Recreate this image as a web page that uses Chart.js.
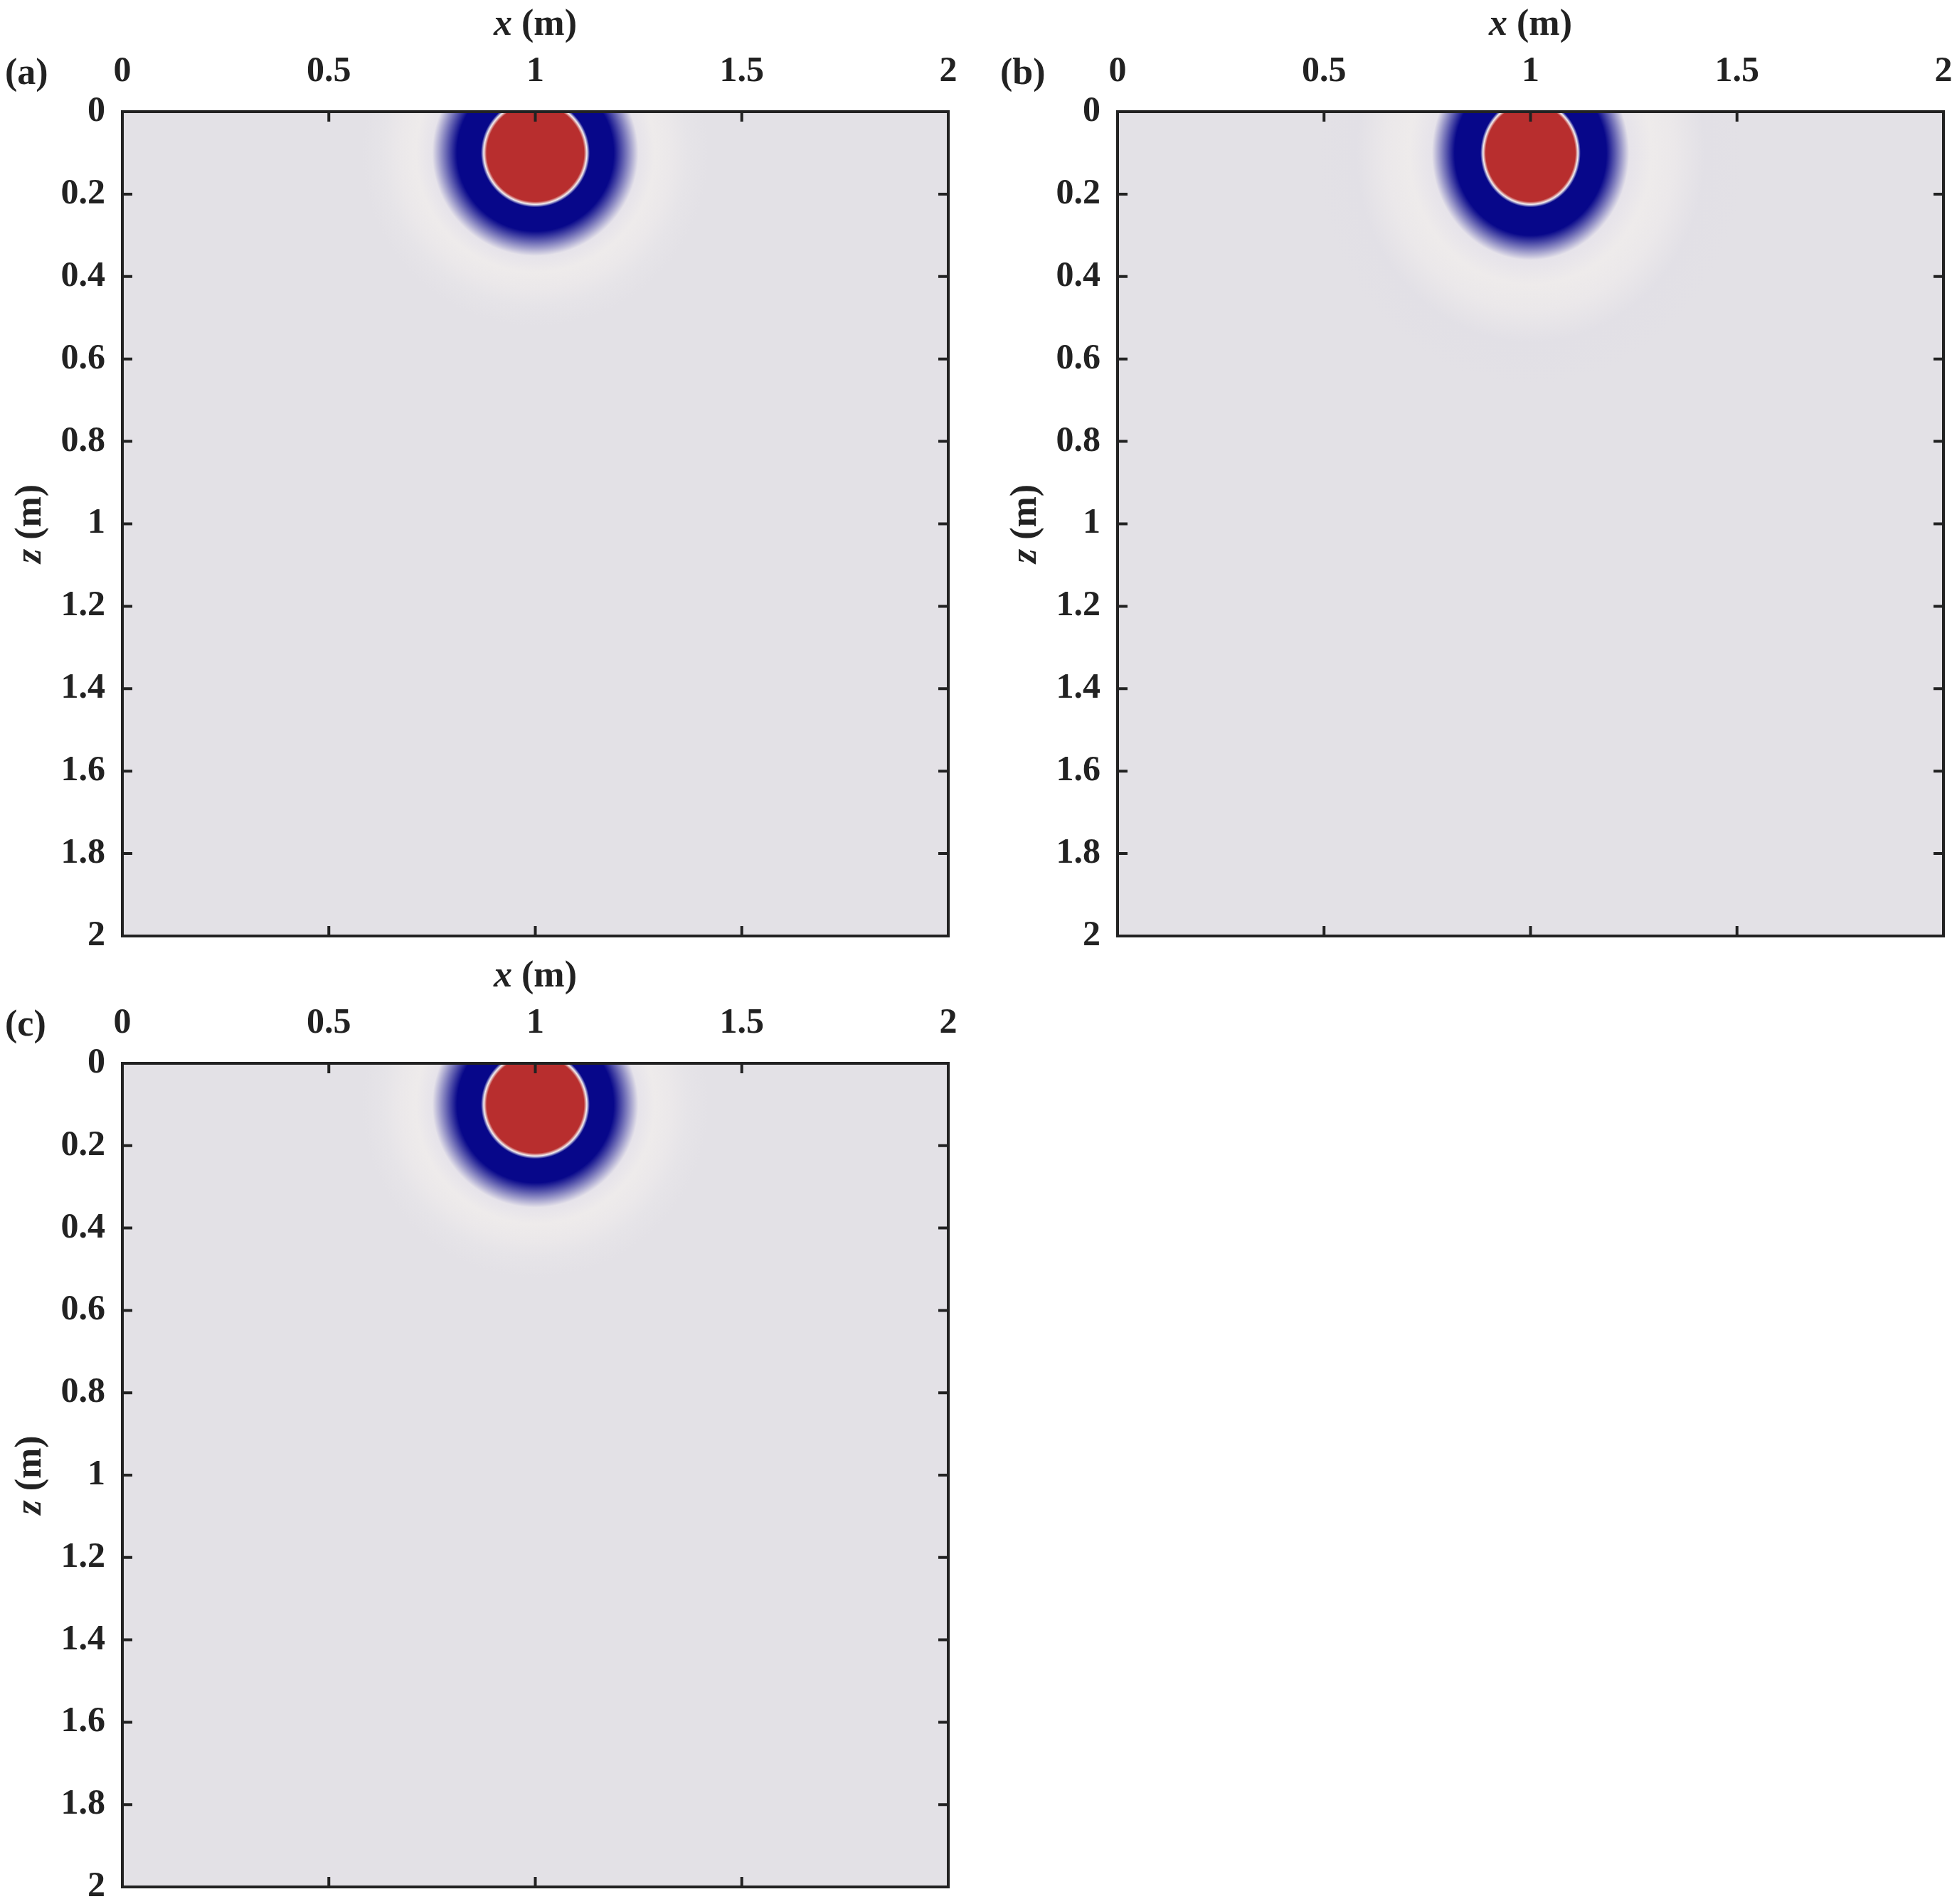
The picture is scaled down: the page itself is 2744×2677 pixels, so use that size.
<!DOCTYPE html>
<html>
<head>
<meta charset="utf-8">
<script src="https://cdn.jsdelivr.net/npm/chart.js@4/dist/chart.umd.min.js"></script>
<style>
  body { margin: 0; background: #fff; width: 2744px; height: 2677px; position: relative; overflow: hidden; }
  .box { position: absolute; }
</style>
</head>
<body>
<div class="box" style="left:0;top:0;width:1372px;height:1340px"><canvas id="ca"></canvas></div>
<div class="box" style="left:1399px;top:0;width:1345px;height:1340px"><canvas id="cb"></canvas></div>
<div class="box" style="left:0;top:1338px;width:1372px;height:1339px"><canvas id="cc"></canvas></div>
<script>
"use strict";

// axis ticks
const xTicks = [0, 0.5, 1, 1.5, 2];
const zTicks = [0, 0.2, 0.4, 0.6, 0.8, 1, 1.2, 1.4, 1.6, 1.8, 2];

// source position (m)
const sourceX = [1, 1, 1];
const sourceZ = [0.1, 0.1, 0.1];

// radial profile of the wavefield for each panel (radius in m, colour at that radius)
const radiiA = [0, 0.118, 0.125, 0.132, 0.19, 0.25, 0.29, 0.33, 0.37, 0.42];
const radiiB = [0, 0.118, 0.125, 0.132, 0.2, 0.26, 0.32, 0.38, 0.46, 0.56];
const radiiC = [0, 0.118, 0.125, 0.132, 0.19, 0.25, 0.29, 0.33, 0.37, 0.42];
const ringColorsA = ["#b82e2e", "#b82e2e", "#f4f0f0", "#07078a", "#07078a", "#e6e3ea", "#eeebeb", "#ebe8ea", "#e6e4e8", "#e3e1e6"];
const ringColorsB = ["#b82e2e", "#b82e2e", "#f4f0f0", "#07078a", "#07078a", "#e6e3ea", "#eeebeb", "#ebe8ea", "#e2e0e6", "#e3e1e6"];
const ringColorsC = ["#b82e2e", "#b82e2e", "#f4f0f0", "#07078a", "#07078a", "#e6e3ea", "#eeebeb", "#ebe8ea", "#e6e4e8", "#e3e1e6"];
// horizontal squeeze of the pattern (b is slightly narrower than tall)
const xStretch = [1, 0.92, 1];

const panelLetters = ["(a)", "(b)", "(c)"];

const bgColor = "#e3e1e6";
const axisColor = "#222";
const font = "'Liberation Serif', 'DejaVu Serif', serif";

const fieldPlugin = {
  id: "field",
  beforeDatasetsDraw(chart, args, opts) {
    const { ctx, chartArea: a } = chart;
    const xs = chart.scales.x, zs = chart.scales.y;
    ctx.save();
    ctx.beginPath();
    ctx.rect(a.left, a.top, a.right - a.left, a.bottom - a.top);
    ctx.clip();
    ctx.fillStyle = bgColor;
    ctx.fillRect(a.left, a.top, a.right - a.left, a.bottom - a.top);
    const cx = xs.getPixelForValue(opts.x);
    const cz = zs.getPixelForValue(opts.z);
    const rMax = opts.radii[opts.radii.length - 1];
    const rPix = Math.abs(zs.getPixelForValue(opts.z + rMax) - cz);
    ctx.translate(cx, cz);
    ctx.scale(opts.stretch, 1);
    const g = ctx.createRadialGradient(0, 0, 0, 0, 0, rPix);
    opts.radii.forEach((r, i) => g.addColorStop(r / rMax, opts.colors[i]));
    ctx.fillStyle = g;
    ctx.beginPath();
    ctx.arc(0, 0, rPix, 0, Math.PI * 2);
    ctx.fill();
    ctx.restore();
  },
  afterDraw(chart, args, opts) {
    const { ctx, chartArea: a } = chart;
    const xs = chart.scales.x, zs = chart.scales.y;
    ctx.save();
    // inward ticks on all four sides
    ctx.strokeStyle = axisColor;
    ctx.lineWidth = 4;
    const tl = 14;
    ctx.beginPath();
    xTicks.forEach(v => {
      const p = xs.getPixelForValue(v);
      ctx.moveTo(p, a.top); ctx.lineTo(p, a.top + tl);
      ctx.moveTo(p, a.bottom); ctx.lineTo(p, a.bottom - tl);
    });
    zTicks.forEach(v => {
      const p = zs.getPixelForValue(v);
      ctx.moveTo(a.left, p); ctx.lineTo(a.left + tl, p);
      ctx.moveTo(a.right, p); ctx.lineTo(a.right - tl, p);
    });
    ctx.stroke();
    ctx.strokeRect(a.left, a.top, a.right - a.left, a.bottom - a.top);

    ctx.fillStyle = axisColor;
    ctx.textBaseline = "middle";
    // panel letter
    ctx.font = "bold 52px " + font;
    ctx.textAlign = "left";
    ctx.fillText(opts.letter, a.left - 165, 105);
    // x title: italic x + " (m)"
    const midX = (a.left + a.right) / 2;
    ctx.font = "italic bold 52px " + font;
    const w1 = ctx.measureText("x").width;
    ctx.font = "bold 52px " + font;
    const w2 = ctx.measureText(" (m)").width;
    let sx = midX - (w1 + w2) / 2;
    ctx.font = "italic bold 52px " + font;
    ctx.fillText("x", sx, 36);
    ctx.font = "bold 52px " + font;
    ctx.fillText(" (m)", sx + w1, 36);
    // z title rotated
    ctx.translate(44, (a.top + a.bottom) / 2);
    ctx.rotate(-Math.PI / 2);
    ctx.font = "italic bold 52px " + font;
    const v1 = ctx.measureText("z").width;
    ctx.font = "bold 52px " + font;
    const v2 = ctx.measureText(" (m)").width;
    sx = -(v1 + v2) / 2;
    ctx.font = "italic bold 52px " + font;
    ctx.fillText("z", sx, 0);
    ctx.font = "bold 52px " + font;
    ctx.fillText(" (m)", sx + v1, 0);
    ctx.restore();
  }
};

function makePanel(id, i, radii, colors, pad) {
  const tickFont = { family: font, size: 50, weight: "bold" };
  new Chart(document.getElementById(id), {
    type: "scatter",
    data: { datasets: [{ data: [{ x: sourceX[i], y: sourceZ[i] }], pointRadius: 0 }] },
    options: {
      responsive: true,
      maintainAspectRatio: false,
      animation: false,
      layout: { padding: pad },
      plugins: {
        legend: { display: false },
        tooltip: { enabled: false },
        field: { x: sourceX[i], z: sourceZ[i], radii: radii, colors: colors, stretch: xStretch[i], letter: panelLetters[i] }
      },
      scales: {
        x: {
          type: "linear", position: "top", min: 0, max: 2,
          afterBuildTicks: s => { s.ticks = xTicks.map(v => ({ value: v })); },
          afterFit: s => { s.height = 157; s.paddingLeft = 0; s.paddingRight = 0; },
          grid: { display: false },
          border: { display: false },
          ticks: { font: tickFont, color: axisColor, padding: 18, maxRotation: 0, callback: v => String(v) }
        },
        y: {
          type: "linear", position: "left", min: 0, max: 2, reverse: true,
          afterBuildTicks: s => { s.ticks = zTicks.map(v => ({ value: v })); },
          afterFit: s => { s.width = 172; s.paddingTop = 0; s.paddingBottom = 0; },
          grid: { display: false },
          border: { display: false },
          ticks: { font: tickFont, color: axisColor, padding: 16, callback: v => String(v) }
        }
      }
    },
    plugins: [fieldPlugin]
  });
}

makePanel("ca", 0, radiiA, ringColorsA, { top: 0, left: 0, right: 39, bottom: 24 });
makePanel("cb", 1, radiiB, ringColorsB, { top: 0, left: 0, right: 12, bottom: 24 });
makePanel("cc", 2, radiiC, ringColorsC, { top: 0, left: 0, right: 39, bottom: 24 });
</script>
</body>
</html>
